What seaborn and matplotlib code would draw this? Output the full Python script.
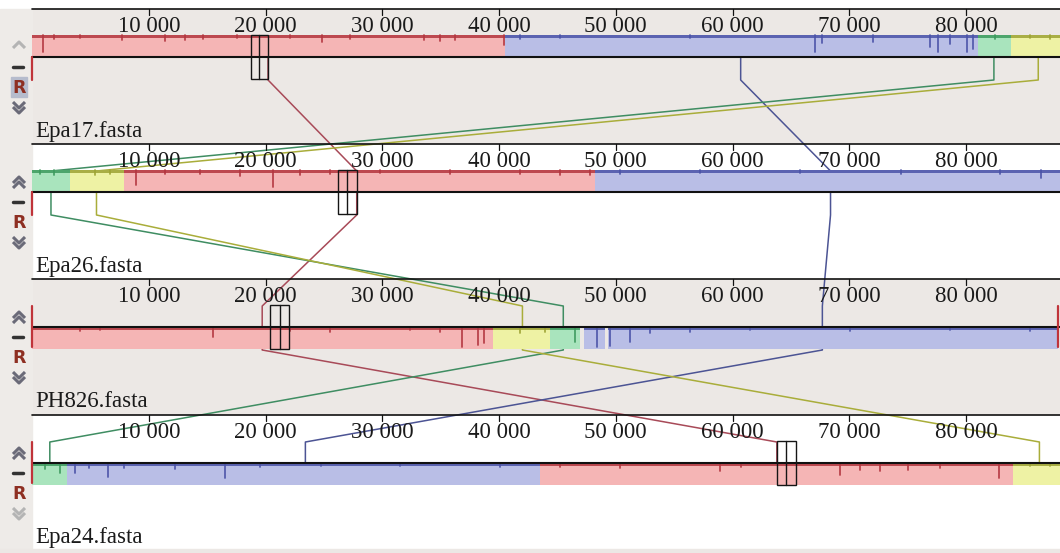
import matplotlib
matplotlib.use("Agg")
import pandas as pd
import matplotlib.pyplot as plt
from matplotlib.patches import Rectangle
import seaborn as sns

# Genomes, top to bottom
genomes = ["Epa17.fasta", "Epa26.fasta", "PH826.fasta", "Epa24.fasta"]
inverted = [False, False, True, True]
genome_length = [88100, 88100, 87900, 88100]

tick_values = [10000, 20000, 30000, 40000, 50000, 60000, 70000, 80000]
tick_labels = ["10 000", "20 000", "30 000", "40 000", "50 000", "60 000", "70 000", "80 000"]

# Locally collinear blocks: (lcb, start, end) in bp
blocks_epa17 = [("red", 0, 40500), ("blue", 40500, 81000), ("green", 81000, 83900), ("yellow", 83900, 88100)]
blocks_epa26 = [("green", 0, 3200), ("yellow", 3200, 7900), ("red", 7900, 48200), ("blue", 48200, 88100)]
blocks_ph826 = [("red", 0, 39500), ("yellow", 39500, 44400), ("green", 44400, 46900),
                ("blue", 47300, 49100), ("blue", 49300, 87900)]
blocks_epa24 = [("green", 0, 3000), ("blue", 3000, 43500), ("red", 43500, 84000), ("yellow", 84000, 88100)]
blocks = [blocks_epa17, blocks_epa26, blocks_ph826, blocks_epa24]

# Anchor position of each LCB connecting line in each genome (bp)
anchor_red = [20200, 27800, 19700, 63800]
anchor_blue = [60700, 68400, 67700, 23400]
anchor_green = [82400, 1600, 45500, 1500]
anchor_yellow = [86200, 5500, 42000, 86300]

# Selection boxes (bp)
box_start = [18700, 26200, 20400, 63800]
box_end = [20200, 27800, 22000, 65400]

# Similarity profile dips: position (bp) and depth (fraction of block height)
dips_epa17_pos = [900, 1900, 4100, 7700, 11400, 13100, 14600, 17500, 22100, 24800, 27200, 33600, 34900,
                  36200, 40400, 41800, 45200, 56400, 67100, 67700, 72000, 76900, 77600, 78600, 80100,
                  80600, 82500, 85500, 87200]
dips_epa17_depth = [.77, .18, .14, .23, .27, .23, .18, .14, .14, .32, .18, .23, .27, .23, .45, .18, .14,
                    .14, .77, .36, .32, .55, .77, .41, .77, .64, .18, .14, .18]
dips_epa26_pos = [700, 1900, 5400, 6700, 8900, 11400, 14400, 17800, 20600, 22900, 25500, 29800, 35800,
                  41800, 45200, 47800, 50400, 57200, 65800, 74400, 82900, 86400]
dips_epa26_depth = [.18, .23, .23, .18, .68, .18, .18, .27, .77, .23, .18, .14, .18, .18, .23, .23, .18,
                    .14, .14, .18, .18, .36]
dips_ph826_pos = [4100, 5800, 15500, 22100, 25500, 32400, 34900, 36800, 38200, 38700, 41800, 43900, 46500,
                  48400, 49500, 51200, 52900, 56400, 61500, 70100, 78600, 85500]
dips_ph826_depth = [.18, .14, .45, .18, .23, .14, .23, .91, .82, .73, .27, .23, .68, .91, .86, .68, .27,
                    .23, .14, .18, .14, .18]
dips_epa24_pos = [1100, 2400, 3700, 4900, 6500, 7900, 12200, 16500, 19500, 24700, 31500, 40100, 45200,
                  50400, 58900, 60700, 69200, 70900, 72600, 75000, 77800, 82800, 85500, 87200]
dips_epa24_depth = [.27, .45, .45, .23, .64, .23, .27, .68, .18, .14, .14, .18, .18, .23, .36, .18, .55,
                    .32, .36, .32, .23, .68, .14, .14]
dips_pos = [dips_epa17_pos, dips_epa26_pos, dips_ph826_pos, dips_epa24_pos]
dips_depth = [dips_epa17_depth, dips_epa26_depth, dips_ph826_depth, dips_epa24_depth]

fill_colors = {"red": "#f5b5b5", "blue": "#b9bee6", "green": "#a9e4bd", "yellow": "#eef2a4"}
dark_colors = {"red": "#b3363f", "blue": "#4b53a8", "green": "#3d9a5e", "yellow": "#9da334"}
line_colors = {"red": "#a84a58", "blue": "#4c5494", "green": "#3f8d62", "yellow": "#a9ad3a"}
panel_bg = ["#ece8e5", "#ffffff", "#ece8e5", "#ffffff"]

# Layout (pixel rows)
W, H = 1060, 553
PX = 10000 / 116.7          # bp per pixel
X0 = -32.3 * PX             # bp at left edge
X1 = X0 + W * PX
panel_top = [9, 144, 279, 415]
centers = [t + 48 for t in panel_top]
bh = 22


def px(p):
    return X0 + p * PX


sns.set_theme(style="white")
fig = plt.figure(figsize=(W / 100, H / 100), dpi=100)
ax = fig.add_axes([0, 0, 1, 1])

# connection lines through seaborn
anchors = {"red": anchor_red, "blue": anchor_blue, "green": anchor_green, "yellow": anchor_yellow}
rows = []
for lcb, pos in anchors.items():
    pts = [(pos[0], centers[0]), (pos[0], centers[0] + 23)]
    for i in range(1, 4):
        pts.append((pos[i], centers[i] - 21))
        pts.append((pos[i], centers[i] + 23 if i < 3 else centers[i]))
    for k, (x, y) in enumerate(pts):
        rows.append({"lcb": lcb, "order": k, "x": x, "y": y})
lines = pd.DataFrame(rows)
sns.lineplot(data=lines, x="x", y="y", hue="lcb", units="lcb", estimator=None, sort=False,
             palette=line_colors, linewidth=1.1, legend=False, ax=ax, zorder=3)

serif = "Liberation Serif"
for i, name in enumerate(genomes):
    top, c = panel_top[i], centers[i]
    bottom = panel_top[i + 1] if i < 3 else 549
    ax.add_patch(Rectangle((0, top), X1, bottom - top, color=panel_bg[i], zorder=0))
    ax.add_patch(Rectangle((X0, top), -X0, bottom - top, color="#eeebe8", zorder=0))
    ax.plot([0, X1], [top, top], color="#111111", lw=1.2, zorder=6)
    ax.plot([0, X1], [c, c], color="#111111", lw=1.5, zorder=6)
    for tv, tl in zip(tick_values, tick_labels):
        ax.plot([tv, tv], [top, top + 6], color="#111111", lw=0.9, zorder=6)
        ax.text(tv, top + 23, tl, ha="center", va="baseline", fontsize=16.5,
                family=serif, color="#1a1a1a", zorder=7)
    ax.text(px(35), top + 128, name, ha="left", va="baseline", fontsize=16.5,
            family=serif, color="#1a1a1a", zorder=7)

    # blocks with similarity profile
    y0 = c - bh if not inverted[i] else c
    edge = c - bh if not inverted[i] else c
    for lcb, s, e in blocks[i]:
        ax.add_patch(Rectangle((s, y0), e - s, bh, color=fill_colors[lcb], zorder=4, lw=0))
        ax.add_patch(Rectangle((s, edge), e - s, 2.8, color=dark_colors[lcb], zorder=5, lw=0, alpha=0.85))
    for p, d in zip(dips_pos[i], dips_depth[i]):
        lcb = next((b[0] for b in blocks[i] if b[1] <= p <= b[2]), "blue")
        ax.plot([p, p], [edge, edge + d * bh], color=dark_colors[lcb], lw=1.3, zorder=5, alpha=0.9)

    # genome start / end markers
    if inverted[i]:
        ax.plot([0, 0], [c - 21, c + 20], color="#c0343a", lw=1.6, zorder=7)
    else:
        ax.plot([0, 0], [c, c + 23], color="#c0343a", lw=1.6, zorder=7)
    if i == 2:
        ax.plot([genome_length[i]] * 2, [c - 21, c + 20], color="#c0343a", lw=1.6, zorder=7)

    # selection box
    ax.add_patch(Rectangle((box_start[i], c - 22), box_end[i] - box_start[i], 44,
                           fill=False, ec="#151515", lw=1.0, zorder=8))
    mid = (box_start[i] + box_end[i]) / 2
    ax.plot([mid, mid], [c - 22, c + 22], color="#151515", lw=1.0, zorder=8)

    # side icons
    xc = 19
    up_col = "#b4b4b4" if i == 0 else "#6a6a78"
    dn_col = "#b4b4b4" if i == 3 else "#6a6a78"
    yu = top + 35
    nup = 1 if i == 0 else 2
    for k in range(nup):
        yy = yu + k * 5
        ax.plot([px(xc - 6), px(xc), px(xc + 6)], [yy + 4, yy - 2, yy + 4], color=up_col, lw=2.2, zorder=7,
                solid_capstyle="butt")
    ax.plot([px(xc - 6), px(xc + 4)], [top + 58, top + 58], color="#333333", lw=2.5, zorder=7)
    if i == 0:
        ax.add_patch(Rectangle((px(11), top + 68), 16 * PX, 20, color="#b6bccd", zorder=6))
    ax.text(px(xc), top + 79, "R", ha="center", va="center", fontsize=12.5, fontweight="bold",
            family="DejaVu Sans", color="#8e2f22", zorder=7)
    yd = top + 95
    for k in range(2):
        yy = yd + k * 5
        ax.plot([px(xc - 6), px(xc), px(xc + 6)], [yy - 2, yy + 4, yy - 2], color=dn_col, lw=2.2, zorder=7,
                solid_capstyle="butt")

ax.add_patch(Rectangle((X0, 549), X1 - X0, 4, color="#ece8e5", zorder=0))
ax.set_xlim(X0, X1)
ax.set_ylim(H, 0)
ax.axis("off")
fig.savefig("out.png", dpi=100)
